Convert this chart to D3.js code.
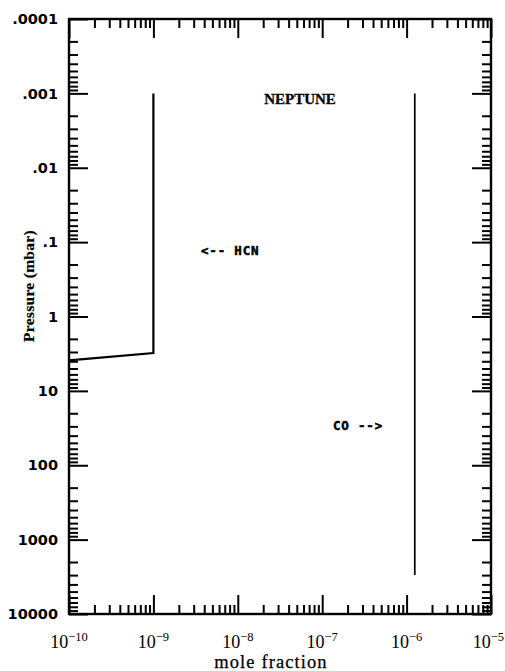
<!DOCTYPE html>
<html>
<head>
<meta charset="utf-8">
<script src="https://cdn.jsdelivr.net/npm/d3@7"></script>
<style>
  html, body { margin: 0; padding: 0; background: #fff; }
  svg { display: block; }
</style>
</head>
<body>
<svg id="chart" width="505" height="671"></svg>
<script>
// HCN vertical profile (mole fraction vs pressure in mbar)
const hcnMix = [1e-10, 1e-9, 1e-9];
const hcnPress = [3.9, 3.1, 0.001];

// CO vertical profile
const coMix = [1.25e-6, 1.25e-6];
const coPress = [0.001, 3000];

// Axis decades and their labels
const xDecades = [1e-10, 1e-9, 1e-8, 1e-7, 1e-6, 1e-5];
const xExponents = ["\u221210", "\u22129", "\u22128", "\u22127", "\u22126", "\u22125"];
const yDecades = [1e-4, 1e-3, 1e-2, 1e-1, 1, 10, 100, 1000, 10000];
const yTickLabels = [".0001", ".001", ".01", ".1", "1", "10", "100", "1000", "10000"];

(function () {
const svg = d3.select("#chart");
const W = 505;
const plotL = 69, plotR = 491, plotT = 19, plotB = 614;

const x = d3.scaleLog().domain([1e-10, 1e-5]).range([plotL, plotR]);
const y = d3.scaleLog().domain([1e-4, 1e4]).range([plotT, plotB]);

// minor ticks: 2..9 within each decade
function minors(decades) {
  const out = [];
  for (let i = 0; i < decades.length - 1; i++)
    for (let k = 2; k <= 9; k++) out.push(decades[i] * k);
  return out;
}
const xMinor = minors(xDecades);
const yMinor = minors(yDecades);

const MAJ = 19, MIN = 9;

function styleAxis(g) {
  g.select(".domain").remove();
  g.selectAll(".tick line").attr("stroke", "#000").attr("stroke-width", 2);
  g.selectAll(".tick text").remove();
}

// bottom
svg.append("g").attr("transform", `translate(0,${plotB})`)
  .call(d3.axisBottom(x).tickValues(xDecades).tickSize(-MAJ)).call(styleAxis);
svg.append("g").attr("transform", `translate(0,${plotB})`)
  .call(d3.axisBottom(x).tickValues(xMinor).tickSize(-MIN)).call(styleAxis);
// top
svg.append("g").attr("transform", `translate(0,${plotT})`)
  .call(d3.axisTop(x).tickValues(xDecades).tickSize(-MAJ)).call(styleAxis);
svg.append("g").attr("transform", `translate(0,${plotT})`)
  .call(d3.axisTop(x).tickValues(xMinor).tickSize(-MIN)).call(styleAxis);
// left
svg.append("g").attr("transform", `translate(${plotL},0)`)
  .call(d3.axisLeft(y).tickValues(yDecades).tickSize(-MAJ)).call(styleAxis);
svg.append("g").attr("transform", `translate(${plotL},0)`)
  .call(d3.axisLeft(y).tickValues(yMinor).tickSize(-MIN)).call(styleAxis);
// right
svg.append("g").attr("transform", `translate(${plotR},0)`)
  .call(d3.axisRight(y).tickValues(yDecades).tickSize(-MAJ)).call(styleAxis);
svg.append("g").attr("transform", `translate(${plotR},0)`)
  .call(d3.axisRight(y).tickValues(yMinor).tickSize(-MIN)).call(styleAxis);

// frame
svg.append("rect")
  .attr("x", plotL).attr("y", plotT)
  .attr("width", plotR - plotL).attr("height", plotB - plotT)
  .attr("fill", "none").attr("stroke", "#000").attr("stroke-width", 2.4);

// y tick labels
svg.append("g").selectAll("text")
  .data(yDecades)
  .join("text")
  .attr("x", 58)
  .attr("y", d => y(d))
  .attr("dy", "0.36em")
  .attr("text-anchor", "end")
  .attr("font-family", "DejaVu Sans, sans-serif")
  .attr("font-weight", "bold")
  .attr("font-size", 14.5)
  .text((d, i) => yTickLabels[i]);

// x tick labels: 10 with superscript exponent; the last one is kept inside the page edge
const last = xDecades.length - 1;
const xl = svg.append("g").selectAll("text")
  .data(xDecades)
  .join("text")
  .attr("x", (d, i) => i === last ? W - 1 : x(d))
  .attr("y", 648)
  .attr("text-anchor", (d, i) => i === last ? "end" : "middle")
  .attr("font-family", "Liberation Serif, serif")
  .attr("font-size", 18);
xl.append("tspan").text("10");
xl.append("tspan").attr("dy", -7).attr("font-size", 12.5).text((d, i) => xExponents[i]);

// axis titles
svg.append("text")
  .attr("x", 271).attr("y", 668)
  .attr("text-anchor", "middle")
  .attr("font-family", "Liberation Serif, serif")
  .attr("font-size", 18.5)
  .attr("letter-spacing", 1.1)
  .attr("stroke", "#000").attr("stroke-width", 0.25)
  .text("mole fraction");

svg.append("text")
  .attr("transform", "translate(34,286) rotate(-90)")
  .attr("text-anchor", "middle")
  .attr("font-family", "Liberation Serif, serif")
  .attr("font-weight", "bold")
  .attr("font-size", 15.5)
  .attr("letter-spacing", 0.3)
  .attr("stroke", "#000").attr("stroke-width", 0.2)
  .text("Pressure (mbar)");

// profiles
const line = d3.line().x(d => x(d[0])).y(d => y(d[1]));
svg.append("path")
  .datum(hcnMix.map((m, i) => [m, hcnPress[i]]))
  .attr("d", line)
  .attr("fill", "none").attr("stroke", "#000").attr("stroke-width", 2.2);
svg.append("path")
  .datum(coMix.map((m, i) => [m, coPress[i]]))
  .attr("d", line)
  .attr("fill", "none").attr("stroke", "#000").attr("stroke-width", 1.7);

// annotations
svg.append("text")
  .attr("x", 300).attr("y", 104)
  .attr("text-anchor", "middle")
  .attr("font-family", "Liberation Serif, serif")
  .attr("font-weight", "bold")
  .attr("font-size", 15)
  .attr("stroke", "#000").attr("stroke-width", 0.3)
  .text("NEPTUNE");

const mono = { family: "DejaVu Sans Mono, monospace", size: 12.5 };
svg.append("text")
  .attr("x", 201).attr("y", 255)
  .attr("font-family", mono.family).attr("font-weight", "bold")
  .attr("font-size", mono.size).attr("letter-spacing", 0.8)
  .attr("stroke", "#000").attr("stroke-width", 0.5)
  .text("<-- HCN");
svg.append("text")
  .attr("x", 333).attr("y", 430)
  .attr("font-family", mono.family).attr("font-weight", "bold")
  .attr("font-size", mono.size).attr("letter-spacing", 0.8)
  .attr("stroke", "#000").attr("stroke-width", 0.5)
  .text("CO -->");
})();
</script>
</body>
</html>
